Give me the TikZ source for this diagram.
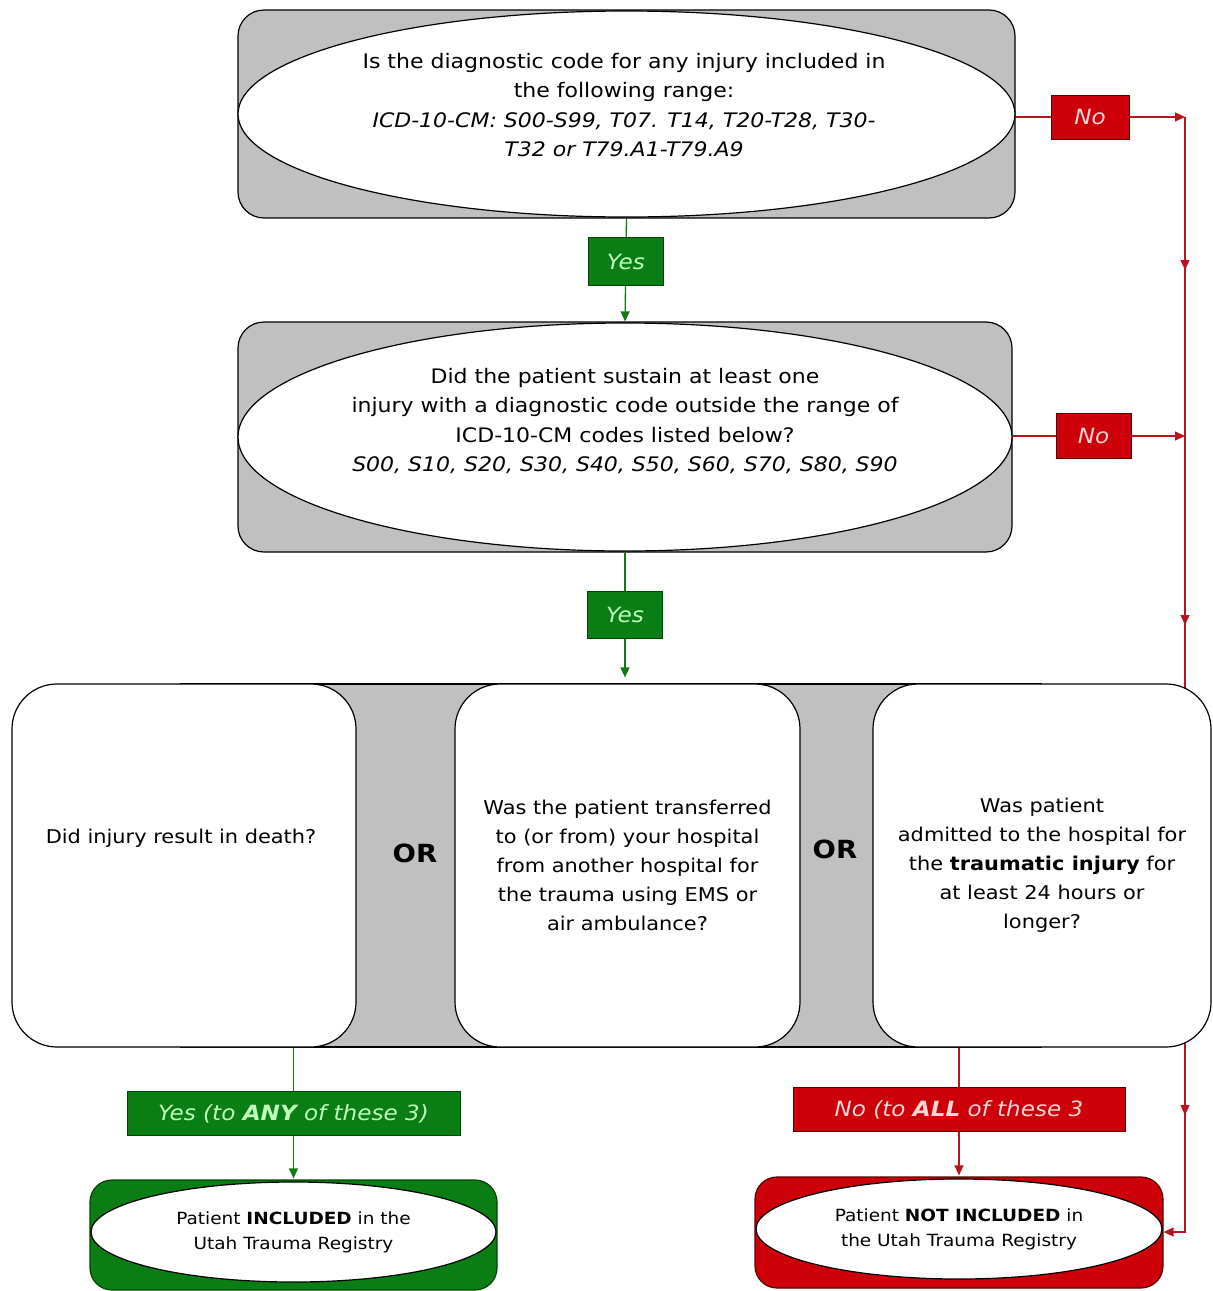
\documentclass[tikz,border=0pt]{standalone}
\usepackage{fontspec}
\setmainfont{DejaVu Sans}[FakeStretch=1.1]
\usetikzlibrary{shapes.geometric,arrows.meta,decorations.markings}
\definecolor{boxgray}{RGB}{192,192,192}
\definecolor{okgreen}{RGB}{10,125,20}
\definecolor{okgreendark}{RGB}{0,70,0}
\definecolor{nored}{RGB}{205,0,10}
\definecolor{noreddark}{RGB}{90,0,0}
\definecolor{yestext}{RGB}{190,255,190}
\definecolor{notext}{RGB}{255,215,215}
\definecolor{lineg}{RGB}{20,120,20}
\definecolor{liner}{RGB}{185,20,30}
\pgfdeclarelayer{bg}
\pgfsetlayers{bg,main}
\tikzset{
  qframe/.style={draw=black, line width=1.2pt, fill=boxgray, rounded corners=26pt, inner sep=0pt},
  qoval/.style={ellipse, draw=black, line width=1.2pt, fill=white, inner sep=0pt},
  qtext/.style={align=center, inner sep=0pt, font=\fontsize{20}{29.3}\selectfont},
  rowbox/.style={draw=black, line width=1.2pt, fill=white, rounded corners=45pt, inner sep=0pt,
     align=center, font=\fontsize{19}{29}\selectfont, minimum height=363pt},
  rowtext/.style={align=center, inner sep=0pt, font=\fontsize{19}{29}\selectfont},
  orlab/.style={font=\fontsize{25}{28}\selectfont\bfseries, inner sep=0pt},
  yeslab/.style={draw=okgreendark, line width=1pt, fill=okgreen, text=yestext, inner sep=0pt,
     font=\fontsize{21}{24}\selectfont\itshape},
  nolab/.style={draw=noreddark, line width=1pt, fill=nored, text=notext, inner sep=0pt,
     font=\fontsize{21}{24}\selectfont\itshape},
  gline/.style={draw=lineg, line width=1.3pt},
  rline/.style={draw=liner, line width=1.3pt},
  tipg/.style={-{Triangle[length=10pt,width=9pt]}},
  resframe/.style={line width=1.2pt, rounded corners=22pt, inner sep=0pt},
  resoval/.style={ellipse, draw=black, line width=1.2pt, fill=white, inner sep=0pt, align=center,
     font=\fontsize{16.8}{25}\selectfont},
}
\begin{document}
\begin{tikzpicture}[x=1pt,y=-1pt]
\useasboundingbox (0,0) rectangle (1213,1291);

% question 1
\node[qframe, minimum width=777pt, minimum height=208pt] (q1box) at (626.5,114) {};
\node[qoval, minimum width=777pt, minimum height=206pt] (q1) at (626.5,114) {};
\node[qtext] (q1t) at (624,105)
  {Is the diagnostic code for any injury included in\\
   the following range:\\
   \itshape ICD-10-CM: S00-S99, T07. T14, T20-T28, T30-\\
   \itshape T32 or T79.A1-T79.A9};

% question 2
\node[qframe, minimum width=774pt, minimum height=230pt] (q2box) at (625,437) {};
\node[qoval, minimum width=774pt, minimum height=228pt] (q2) at (625,437) {};
\node[qtext] (q2t) at (625,421)
  {Did the patient sustain at least one\\
   injury with a diagnostic code outside the range of\\
   ICD-10-CM codes listed below?\\
   \itshape S00, S10, S20, S30, S40, S50, S60, S70, S80, S90};

% gray band behind the three criteria
\node[draw=black, line width=1.2pt, fill=boxgray, minimum width=860pt, minimum height=363pt, inner sep=0pt]
  (band) at (611,865.5) {};

% the three criteria
\node[rowbox, minimum width=344pt] (c1) at (184,865.5) {};
\node[rowtext] (c1t) at (181,838) {Did injury result in death?};
\node[rowbox, minimum width=345pt] (c2) at (627.5,865.5)
  {Was the patient transferred\\ to (or from) your hospital\\ from another hospital for\\
   the trauma using EMS or\\ air ambulance?};
\node[rowbox, minimum width=338pt] (c3) at (1042,865.5)
  {Was patient\\ admitted to the hospital for\\ the \textbf{traumatic injury} for\\
   at least 24 hours or\\ longer?};
\node[orlab] (or1) at (415,853) {OR};
\node[orlab] (or2) at (835,849) {OR};

% results
\node[resframe, draw=okgreendark, fill=okgreen, minimum width=407pt, minimum height=110pt] (incbox) at (293.5,1235) {};
\node[resoval, minimum width=405pt, minimum height=100pt] (inc) at (293.5,1232)
  {Patient \textbf{INCLUDED} in the\\ Utah Trauma Registry};
\node[resframe, draw=noreddark, fill=nored, minimum width=408pt, minimum height=111pt] (excbox) at (959,1232.5) {};
\node[resoval, minimum width=406pt, minimum height=100pt] (exc) at (959,1229)
  {Patient \textbf{NOT INCLUDED} in\\ the Utah Trauma Registry};

% named points of the red return line
\coordinate (r1) at (1185,117);
\coordinate (r2) at (1185,436);
\coordinate (r3) at (1185,1232);

\begin{pgfonlayer}{bg}
% yes connectors
\draw[gline, tipg] (q1box.south) -- node[yeslab, pos=0.42, minimum width=75pt, minimum height=48pt]{Yes} (q2box.north);
\draw[gline, tipg, shorten >=6pt] (q2box.south) -- node[yeslab, pos=0.48, minimum width=75pt, minimum height=47pt]{Yes} (q2box.south |- band.north);
\draw[gline, tipg, shorten >=1pt] (c1.south -| inc.north) -- node[yeslab, pos=0.5, minimum width=333pt, minimum height=44pt]{Yes (to \textbf{ANY} of these 3)} (incbox.north);
% no connectors
\draw[rline, tipg] (q1box.east |- r1) -- node[nolab, pos=0.44, minimum width=78pt, minimum height=44pt]{No} (r1);
\draw[rline, tipg] (q2box.east |- r2) -- node[nolab, pos=0.47, minimum width=75pt, minimum height=45pt]{No} (r2);
\draw[rline, tipg, shorten >=1pt] (c3.south -| exc.north) -- node[nolab, pos=0.48, minimum width=332pt, minimum height=44pt]{No (to \textbf{ALL} of these 3} (excbox.north);
\draw[rline, tipg,
  postaction={decorate, decoration={markings,
    mark=at position 153pt with {\arrow{Triangle[length=10pt,width=9pt]}},
    mark=at position 508pt with {\arrow{Triangle[length=10pt,width=9pt]}},
    mark=at position 998pt with {\arrow{Triangle[length=10pt,width=9pt]}}}}]
  (r1) -- (r3) -- (excbox.east |- r3);
\end{pgfonlayer}
\end{tikzpicture}
\end{document}
